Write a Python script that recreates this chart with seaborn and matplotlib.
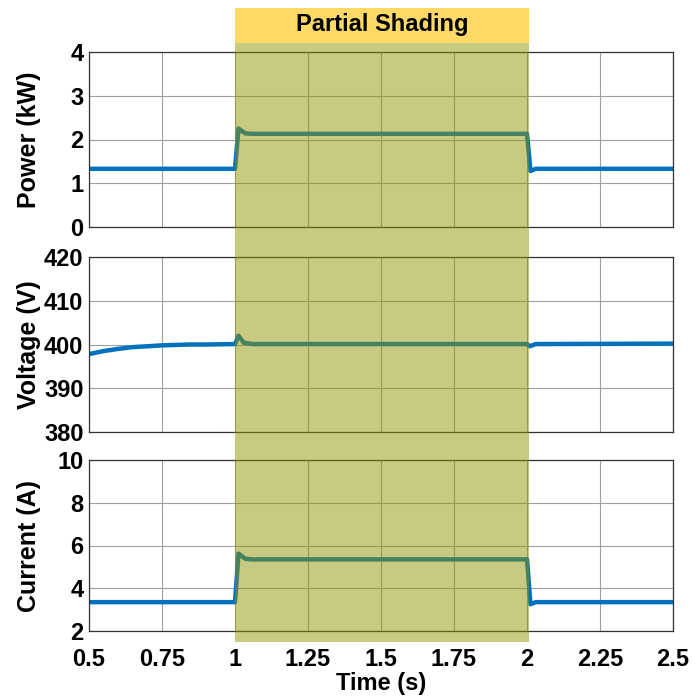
import matplotlib
matplotlib.use("Agg")
import matplotlib.pyplot as plt
from matplotlib.patches import Rectangle
import seaborn as sns
import pandas as pd

sns.set_theme(style="whitegrid")
plt.rcParams["font.family"] = ["Liberation Sans", "DejaVu Sans"]
plt.rcParams["font.weight"] = "bold"
plt.rcParams["text.color"] = "black"
plt.rcParams["axes.labelcolor"] = "black"
plt.rcParams["xtick.color"] = "black"
plt.rcParams["ytick.color"] = "black"

# Time breakpoints (s) and measured responses
power_t = [0.5, 1.0, 1.012, 1.035, 1.06, 1.995, 2.0, 2.012, 2.03, 2.5]
power_kw = [1.33, 1.33, 2.25, 2.14, 2.13, 2.13, 2.13, 1.28, 1.33, 1.33]

voltage_t = [0.5, 0.55, 0.6, 0.65, 0.7, 0.75, 0.8, 0.85, 0.9, 1.0, 1.012, 1.03, 1.06,
             1.995, 2.0, 2.01, 2.03, 2.5]
voltage_v = [397.8, 398.5, 399.0, 399.4, 399.6, 399.8, 399.9, 400.0, 400.0, 400.1,
             402.0, 400.4, 400.1, 400.1, 400.1, 399.6, 400.1, 400.2]

current_t = [0.5, 1.0, 1.012, 1.035, 1.06, 1.995, 2.0, 2.012, 2.03, 2.5]
current_a = [3.35, 3.35, 5.62, 5.38, 5.35, 5.35, 5.35, 3.25, 3.35, 3.35]

x_ticks = [0.5, 0.75, 1, 1.25, 1.5, 1.75, 2, 2.25, 2.5]
x_ticklabels = ["0.5", "0.75", "1", "1.25", "1.5", "1.75", "2", "2.25", "2.5"]

shade_start, shade_end = 1.0, 2.0
shade_label = "Partial Shading"

panels = [
    (power_t, power_kw, "Power (kW)", (0, 4), [0, 1, 2, 3, 4]),
    (voltage_t, voltage_v, "Voltage (V)", (380, 420), [380, 390, 400, 410, 420]),
    (current_t, current_a, "Current (A)", (2, 10), [2, 4, 6, 8, 10]),
]

W, H = 697, 700
FS = 17
fig = plt.figure(figsize=(W / 100, H / 100), dpi=100)

left_px, right_px = 89, 673
left, right = left_px / W, right_px / W
rows = [(52, 227), (257, 432), (460, 631)]

axes = []
for (top, bot), (t, y, lab, ylim, yt) in zip(rows, panels):
    ax = fig.add_axes([left, 1 - bot / H, right - left, (bot - top) / H])
    df = pd.DataFrame({"t": t, "y": y})
    sns.lineplot(data=df, x="t", y="y", ax=ax, color="#0072BD", linewidth=3.2,
                 estimator=None, sort=False)
    ax.set_xlim(0.5, 2.5)
    ax.set_ylim(*ylim)
    ax.set_yticks(yt)
    ax.set_yticklabels([str(v) for v in yt], fontsize=FS, fontweight="bold")
    ax.set_xticks(x_ticks)
    ax.set_ylabel(lab, fontsize=FS + 1, fontweight="bold")
    # label's right edge about 41 px from the figure's left border
    ax.yaxis.set_label_coords(-(left_px - 41) / (right_px - left_px), 0.5)
    ax.set_xlabel("")
    ax.grid(True, color="#a0a0a0", linewidth=0.8)
    ax.set_facecolor("white")
    for s in ax.spines.values():
        s.set_color("#333333")
        s.set_linewidth(0.9)
    ax.tick_params(axis="y", length=0, pad=4)
    ax.tick_params(axis="x", length=0, pad=12)
    axes.append(ax)

for ax in axes[:-1]:
    ax.set_xticklabels([])
axes[-1].set_xticklabels(x_ticklabels, fontsize=FS, fontweight="bold")
axes[-1].set_xlabel("Time (s)", fontsize=FS, fontweight="bold", labelpad=1)

# Shaded interval spanning all panels, placed in figure pixels from data x
def xpix(xv):
    return left_px + (xv - 0.5) / 2.0 * (right_px - left_px)

x0, x1 = xpix(shade_start), xpix(shade_end) + 2
fig.patches.append(Rectangle((x0 / W, 1 - 642 / H), (x1 - x0) / W, (642 - 43) / H,
                             transform=fig.transFigure, facecolor=(143 / 255, 147 / 255, 0),
                             alpha=0.49, edgecolor="none", zorder=10))
fig.patches.append(Rectangle((x0 / W, 1 - 43 / H), (x1 - x0) / W, 35 / H,
                             transform=fig.transFigure, facecolor="#FFD966",
                             edgecolor="none", zorder=10))
fig.text((x0 + x1) / 2 / W, 1 - 24 / H, shade_label, ha="center", va="center",
         fontsize=FS, fontweight="bold", zorder=11)

fig.savefig("out.png", dpi=100)
